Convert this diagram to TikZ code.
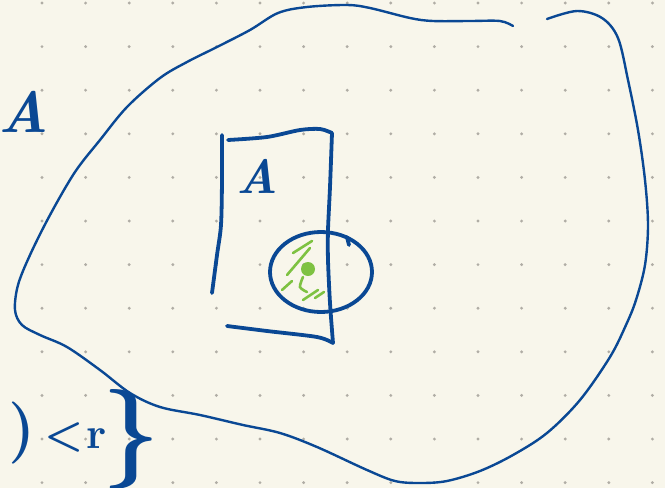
\documentclass[tikz,border=0pt]{standalone}
\usepackage{tikz}
\usetikzlibrary{arrows.meta, positioning}

\definecolor{paper}{RGB}{248,246,235}
\definecolor{inkblue}{RGB}{10,72,148}
\definecolor{markgreen}{RGB}{126,194,66}
\definecolor{dotgrey}{RGB}{176,173,165}

\begin{document}
\begin{tikzpicture}[
        x=1pt, y=-1pt,
        blob/.style={draw=inkblue, line width=2.4pt, line cap=round, line join=round},
        ink/.style={draw=inkblue, line width=3.8pt, line cap=round, line join=round},
        hatch/.style={draw=markgreen, line width=2.6pt, line cap=round},
        scribble/.style={text=inkblue, inner sep=0pt, font=\bfseries\itshape}
    ]
        \useasboundingbox (0,0) rectangle (665,488);
        \fill[paper] (0,0) rectangle (665,488);
        % dotted paper
        \foreach \i in {0,...,14}
            \foreach \j in {0,...,11}
                \fill[dotgrey] (42+43.6*\i, 3+43.6*\j) circle (1.6);

        % big region
        \draw[blob] plot[smooth, tension=0.55] coordinates {
            (547,19) (577,11) (602,18) (618,38) (628,80) (638,130) (645,180)
            (648,225) (645,265) (636,300) (626,325) (610,357) (580,400)
            (547,433) (513,455) (480,471) (447,481) (420,483) (395,481)
            (367,470) (317,447) (280,433) (243,425) (200,415) (160,407)
            (130,393) (100,370) (67,347) (40,335) (22,325) (15,310) (18,285)
            (30,255) (50,215) (75,172) (100,140) (127,107) (160,78) (187,62)
            (217,47) (250,30) (278,13) (307,7) (347,5) (370,8) (410,18)
            (433,21) (470,21) (500,21) (513,26)};

        % rectangle A
        \draw[ink] plot[smooth] coordinates {(222,135) (222,180) (221,225) (217,255) (212,293)};
        \draw[ink] plot[smooth] coordinates {(228,140) (267,137) (300,130) (320,129) (332,133)};
        \draw[ink] plot[smooth] coordinates {(332,133) (330,187) (328,230) (328,260) (330,303) (333,343)};
        \draw[ink] plot[smooth] coordinates {(333,343) (317,337) (267,331) (227,326)};

        % ball
        \draw[ink] (321,272) ellipse [x radius=51, y radius=40];
        \draw[ink] (347,237) -- (349,245);

        % shading inside the ball
        \draw[hatch] (312,241) -- (293,253);
        \draw[hatch] (310,248) -- (287,275);
        \draw[hatch] (292,281) -- (282,290);
        \draw[hatch] plot[smooth] coordinates {(303,277) (300,287) (307,292)};
        \draw[hatch] (318,290) -- (303,300);
        \draw[hatch] (324,292) -- (315,298);
        \fill[markgreen] (308,269) circle (7);

        % labels
        \node[scribble, font=\bfseries\itshape\fontsize{58}{58}\selectfont] (setA) at (24,112) {A};
        \node[scribble, font=\bfseries\itshape\fontsize{48}{48}\selectfont] (boxA) at (257,176) {A};
        \node[scribble, font=\bfseries\upshape, anchor=base west] (ball) at (8,448)
            {{\fontsize{62}{62}\selectfont )}\hspace{9pt}{\fontsize{44}{44}\selectfont <\hspace{3pt}r}\hspace{-4pt}\raisebox{-16pt}{\fontsize{100}{100}\selectfont \}}};
    \end{tikzpicture}
\end{document}
